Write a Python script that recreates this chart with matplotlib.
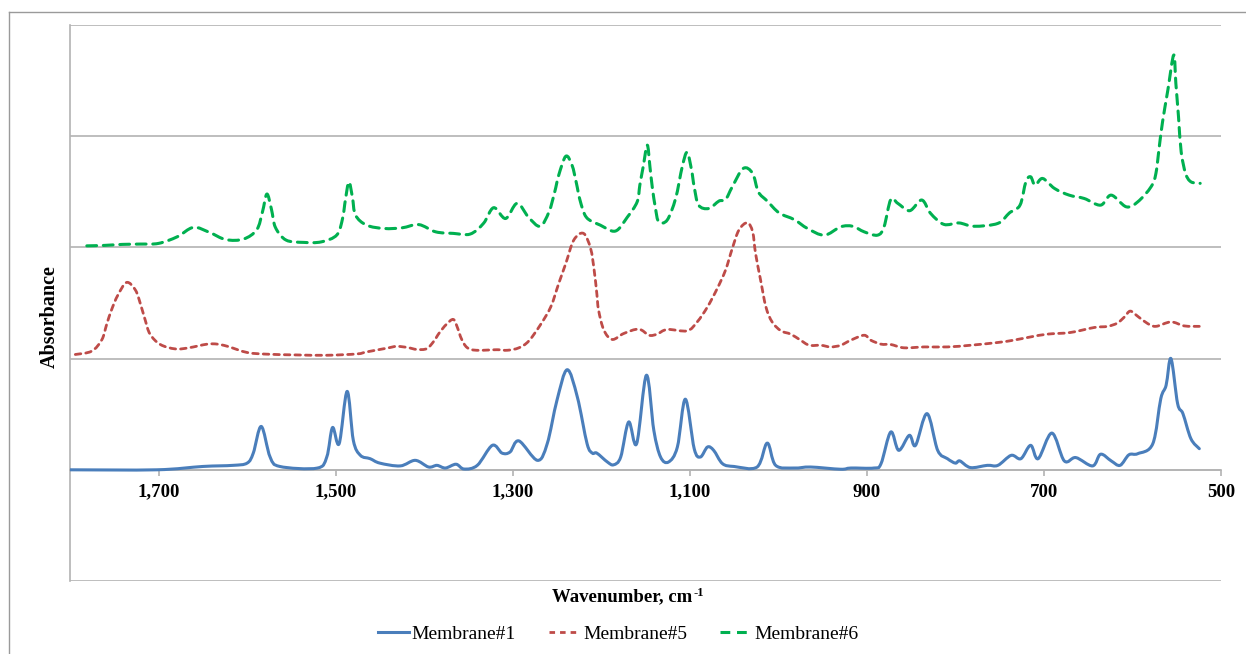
import numpy as np
import matplotlib
matplotlib.use("Agg")
import matplotlib.pyplot as plt
from matplotlib.path import Path
from matplotlib.patches import PathPatch
from matplotlib.lines import Line2D
from matplotlib.ticker import FuncFormatter

# ---------------- data ----------------
m1_wn = [1800, 1702, 1650, 1616, 1600, 1593, 1584, 1574, 1563, 1521, 1510, 1503.5, 1496, 1487, 1480,
         1472, 1461, 1450, 1427, 1410, 1395, 1385.5, 1376, 1364, 1355, 1340, 1323, 1312, 1303, 1293,
         1272, 1261, 1250, 1238.5, 1227, 1216, 1210, 1205, 1193, 1186, 1178, 1169, 1160, 1149, 1140.6,
         1133, 1124, 1114, 1105, 1095, 1088, 1080, 1073, 1063, 1050, 1024, 1012.5, 1003, 982, 963.5,
         929.6, 918, 892, 884, 873, 864, 852, 845, 832, 820, 809, 800, 795, 783, 764, 752, 737, 726,
         715, 706.5, 691, 677, 664, 645, 636, 624, 614, 604, 594, 577, 568, 562, 556.5, 549, 543, 534,
         524.5]
m1_abs = [0.0, 0.0, 0.03, 0.04, 0.06, 0.15, 0.39, 0.115, 0.03, 0.015, 0.115, 0.38, 0.235, 0.705, 0.265,
          0.13, 0.10, 0.06, 0.035, 0.085, 0.025, 0.04, 0.016, 0.05, 0.007, 0.04, 0.22, 0.15, 0.16, 0.26,
          0.085, 0.235, 0.625, 0.90, 0.655, 0.235, 0.15, 0.15, 0.07, 0.045, 0.115, 0.43, 0.235, 0.85, 0.355,
          0.115, 0.07, 0.205, 0.635, 0.19, 0.115, 0.205, 0.175, 0.055, 0.03, 0.025, 0.24, 0.04, 0.016, 0.025,
          0.005, 0.016, 0.016, 0.055, 0.34, 0.175, 0.31, 0.22, 0.505, 0.175, 0.10, 0.06, 0.08, 0.02, 0.04,
          0.04, 0.13, 0.10, 0.22, 0.10, 0.33, 0.08, 0.11, 0.035, 0.14, 0.08, 0.04, 0.135, 0.145, 0.235,
          0.64, 0.76, 1.0, 0.595, 0.505, 0.28, 0.19]

m5_wn = [1794, 1775.5, 1764, 1758.5, 1753, 1746, 1736, 1726, 1720, 1715, 1709.6, 1698, 1681, 1666, 1645,
         1633.5, 1622, 1600, 1578, 1544, 1510, 1476, 1465, 1442, 1431, 1419, 1408, 1397, 1389, 1383, 1375,
         1367, 1362, 1358, 1351.6, 1341, 1317.6, 1306, 1293, 1282, 1269, 1257, 1248, 1240, 1231, 1220,
         1212, 1208, 1205, 1203, 1197, 1187.6, 1174.5, 1157.6, 1146, 1137, 1125.5, 1103, 1091.6, 1080,
         1069, 1059.6, 1052, 1044.5, 1035, 1029, 1025.7, 1020, 1014, 1007, 997, 986, 975, 965, 952, 941,
         929.6, 918, 903, 895.7, 884, 873, 858, 835, 809, 783, 752, 734, 715, 696, 670, 643, 628, 617,
         609, 602.5, 594, 583, 573.5, 556.5, 541.5, 524.5]
m5_abs = [1.037, 1.067, 1.17, 1.31, 1.44, 1.57, 1.685, 1.615, 1.48, 1.345, 1.22, 1.127, 1.087, 1.097, 1.13,
          1.13, 1.11, 1.055, 1.04, 1.033, 1.03, 1.042, 1.06, 1.094, 1.11, 1.10, 1.082, 1.09, 1.157, 1.23,
          1.307, 1.352, 1.27, 1.18, 1.10, 1.075, 1.08, 1.075, 1.097, 1.157, 1.30, 1.465, 1.676, 1.856,
          2.066, 2.126, 1.99, 1.796, 1.586, 1.436, 1.256, 1.172, 1.226, 1.265, 1.21, 1.22, 1.262, 1.25,
          1.33, 1.465, 1.63, 1.796, 1.99, 2.156, 2.222, 2.14, 1.946, 1.706, 1.465, 1.33, 1.25, 1.22, 1.166,
          1.12, 1.12, 1.105, 1.12, 1.166, 1.21, 1.166, 1.13, 1.127, 1.097, 1.105, 1.105, 1.12, 1.145,
          1.166, 1.195, 1.22, 1.235, 1.28, 1.29, 1.32, 1.375, 1.427, 1.38, 1.316, 1.29, 1.33, 1.294, 1.29]

m6_wn = [1781, 1761, 1741, 1720.5, 1700, 1679, 1660.6, 1642.5, 1624, 1604, 1589, 1582.6, 1577.6, 1572.4,
         1568, 1556, 1536, 1516, 1498.5, 1492, 1489, 1485, 1481, 1477.5, 1465, 1445, 1425, 1406, 1387,
         1367, 1348, 1333, 1321.5, 1308, 1295, 1282, 1269, 1259, 1252.5, 1248, 1240, 1233, 1228, 1224,
         1216.7, 1201, 1184, 1170.7, 1159.4, 1156.4, 1152.6, 1148, 1145, 1142.4, 1138.7, 1135, 1125.5,
         1116, 1108.5, 1103, 1098, 1095, 1090, 1078.5, 1067, 1059.6, 1052, 1039.6, 1029, 1022.6, 1012.5,
         999, 982, 967, 948, 929.6, 916, 903, 888, 880.6, 873, 865, 851.6, 838, 828, 813, 796, 779, 752,
         739, 727, 720.4, 715, 710, 701.5, 688, 671.5, 654.5, 636, 624, 607, 594, 579, 573.5, 569.7, 566,
         560, 553.4, 551, 548, 545, 540, 534, 523.5]
m6_abs = [2.014, 2.018, 2.027, 2.03, 2.036, 2.095, 2.18, 2.135, 2.07, 2.075, 2.16, 2.32, 2.48, 2.34,
          2.18, 2.066, 2.045, 2.05, 2.113, 2.266, 2.425, 2.588, 2.45, 2.29, 2.2, 2.17, 2.176, 2.205, 2.14,
          2.126, 2.12, 2.216, 2.357, 2.26, 2.396, 2.27, 2.19, 2.32, 2.5, 2.65, 2.82, 2.74, 2.576, 2.426,
          2.27, 2.2, 2.147, 2.27, 2.41, 2.56, 2.726, 2.92, 2.726, 2.545, 2.35, 2.23, 2.246, 2.44, 2.726,
          2.855, 2.696, 2.545, 2.38, 2.35, 2.417, 2.43, 2.545, 2.71, 2.666, 2.5, 2.417, 2.31, 2.25, 2.17,
          2.11, 2.185, 2.19, 2.14, 2.11, 2.185, 2.43, 2.396, 2.33, 2.426, 2.306, 2.207, 2.22, 2.19, 2.216,
          2.31, 2.38, 2.59, 2.635, 2.56, 2.62, 2.53, 2.47, 2.44, 2.38, 2.47, 2.365, 2.41, 2.545, 2.666,
          2.906, 3.13, 3.416, 3.73, 3.476, 3.176, 2.86, 2.666, 2.59, 2.576]

series_names = ["Membrane#1", "Membrane#5", "Membrane#6"]
xtick_values = [1700, 1500, 1300, 1100, 900, 700, 500]

# ---------------- styling ----------------
colors = ["#4A7EBB", "#BE4B48", "#00B050"]
styles = ["-", (0, (2.0, 1.8)), (0, (3.2, 2.2))]
widths = [2.2, 2.0, 2.2]
GRID = "#B3B3B3"

plt.rcParams["font.family"] = ["Liberation Serif", "DejaVu Serif"]

W, H = 1246, 654
fig = plt.figure(figsize=(W / 100, H / 100), dpi=100)
ax = fig.add_axes([70 / W, 1 - 581 / H, (1221 - 70) / W, (581 - 25) / H])


def smooth_path(xs, ys):
    """Excel-like smoothed line: cubic Bezier segments through the data points."""
    P = np.column_stack([xs, ys]).astype(float)
    n = len(P)
    verts = [P[0]]
    codes = [Path.MOVETO]
    for i in range(n - 1):
        p0 = P[i - 1] if i > 0 else P[i]
        p1 = P[i]
        p2 = P[i + 1]
        p3 = P[i + 2] if i + 2 < n else P[i + 1]
        c1 = p1 + (p2 - p0) / 6.0
        c2 = p2 - (p3 - p1) / 6.0
        verts += [c1, c2, p2]
        codes += [Path.CURVE4] * 3
    return Path(verts, codes)


data = [(m1_wn, m1_abs), (m5_wn, m5_abs), (m6_wn, m6_abs)]
handles = []
for (xs, ys), c, ls, lw, name in zip(data, colors, styles, widths, series_names):
    patch = PathPatch(smooth_path(xs, ys), fill=False, edgecolor=c, lw=lw,
                      linestyle=ls, capstyle="round", joinstyle="round", zorder=3)
    ax.add_patch(patch)
    handles.append(Line2D([], [], color=c, lw=lw, linestyle=ls, label=name))

ax.set_xlim(1800, 500)
ax.set_ylim(-1, 4)

# gridlines
ax.set_yticks([-1, 0, 1, 2, 3, 4])
ax.yaxis.grid(True, color=GRID, lw=1.2)
ax.tick_params(axis="y", length=0, labelleft=False)

# x axis crossing at 0
ax.spines["bottom"].set_position(("data", 0))
ax.spines["bottom"].set_color(GRID)
ax.spines["bottom"].set_linewidth(1.2)
ax.spines["left"].set_color(GRID)
ax.spines["left"].set_linewidth(1.2)
ax.spines["top"].set_visible(False)
ax.spines["right"].set_visible(False)
ax.set_xticks(xtick_values)
ax.xaxis.set_major_formatter(FuncFormatter(lambda v, p: f"{int(v):,}"))
ax.tick_params(axis="x", direction="out", length=4, width=1.2, color=GRID, pad=6,
               labelsize=13.5)
for lab in ax.get_xticklabels():
    lab.set_fontweight("bold")

# axis titles
xt = fig.text(622.5 / W, 1 - 597 / H, "Wavenumber, cm", ha="center", va="center",
              fontsize=13.5, fontweight="bold")
renderer = fig.canvas.get_renderer()
bb = xt.get_window_extent(renderer=renderer)
fig.text((bb.x1 + 1) / W, (bb.y1 + 1) / H, "-1", ha="left", va="top",
         fontsize=9, fontweight="bold")
fig.text(50 / W, 1 - 317 / H, "Absorbance", ha="center", va="center", rotation=90,
         fontsize=14.5, fontweight="bold")

# legend
fig.legend(handles=handles, loc="center", bbox_to_anchor=(618 / W, 1 - 634 / H), ncol=3,
           frameon=False, fontsize=14, handlelength=1.6, handletextpad=0.15, columnspacing=1.7)

# outer chart frame
fig.add_artist(Line2D([9 / W, 9 / W], [0, 1 - 12 / H], transform=fig.transFigure, color="#9A9A9A", lw=1.0))
fig.add_artist(Line2D([9 / W, 1], [1 - 12 / H, 1 - 12 / H], transform=fig.transFigure, color="#9A9A9A", lw=1.0))

fig.savefig("out.png", dpi=100)
